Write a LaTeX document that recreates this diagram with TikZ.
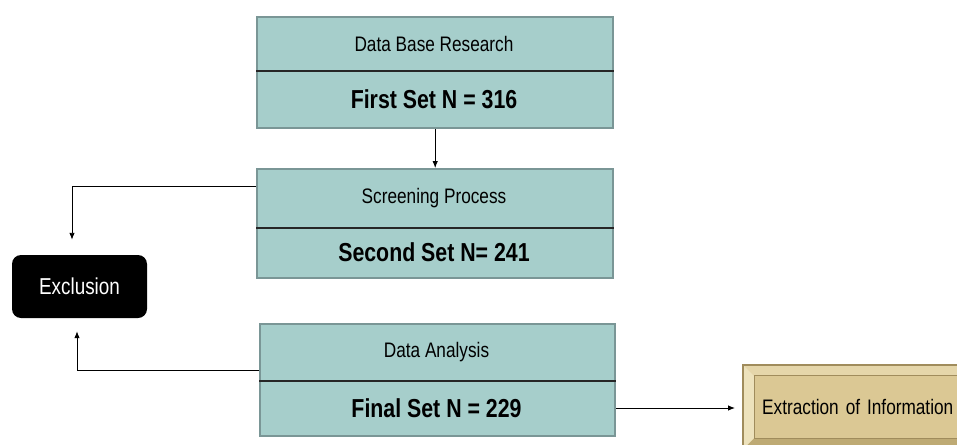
\documentclass[tikz,border=0pt]{standalone}
\usepackage{fontspec}
\setmainfont[FakeStretch=0.82]{Liberation Sans}
\usetikzlibrary{arrows.meta}

\definecolor{setfill}{RGB}{166,206,203}
\definecolor{setedge}{RGB}{122,150,150}
\definecolor{extface}{RGB}{219,200,148}
\definecolor{exttop}{RGB}{229,214,170}
\definecolor{extleft}{RGB}{237,226,188}
\definecolor{extbot}{RGB}{190,170,116}
\definecolor{extedge}{RGB}{160,140,92}

\begin{document}
\begin{tikzpicture}[x=1pt,y=1pt,
    setbox/.style={draw=setedge, line width=2.4pt, fill=setfill, inner sep=0pt},
    divider/.style={line width=1.1pt, black!85},
    small/.style={font=\fontsize{21}{24}\selectfont},
    big/.style={font=\fontsize{26}{30}\selectfont\bfseries},
    exclbox/.style={fill=black, text=white, rounded corners=9pt, minimum width=135pt,
        minimum height=63pt, font=\fontsize{23}{26}\selectfont},
    extbox/.style={fill=extface, anchor=west, text width=240pt, align=left, inner xsep=19pt,
        minimum height=84pt, font=\fontsize{21}{24}\selectfont},
    link/.style={-{Latex[length=7pt,width=5.5pt]}, line width=0.9pt},
]
\useasboundingbox (0,0) rectangle (957,-444);
\clip (0,0) rectangle (957,-444);

    % the three sets
    \foreach \nm/\xa/\xb/\ya/\ym/\yb/\ttl/\cnt in {
        first/256/612/16/71/127/Data Base Research/First Set N = 316,
        second/256/612/168/228/277/Screening Process/Second Set N= 241,
        final/259/614/323/381/435/Data Analysis/Final Set N = 229} {
        \node[setbox, anchor=north west, minimum width=\xb-\xa, minimum height=\yb-\ya] (\nm) at (\xa,-\ya) {};
        \coordinate (\nm-div) at (\xa,-\ym);
        \draw[divider] (\nm-div) -- (\nm-div -| \nm.east);
        \node[small] (\nm-t) at ({(\xa+\xb)/2},{-(\ya+\ym)/2}) {\ttl};
        \node[big] (\nm-n) at ({(\xa+\xb)/2},{-(\ym+\yb)/2}) {\cnt};
    }

    \node[exclbox] (excl) at (79.5,-286.5) {Exclusion};

    % bevelled box, runs off the page
    \node[extbox] (extract) at (743,-407) {Extraction of Information};
    \fill[exttop] (extract.north west) -- (extract.north east) -- ([shift={(-11,-11)}]extract.north east) -- ([shift={(11,-11)}]extract.north west) -- cycle;
    \fill[extbot] (extract.south west) -- (extract.south east) -- ([shift={(-11,11)}]extract.south east) -- ([shift={(11,11)}]extract.south west) -- cycle;
    \fill[extleft] (extract.north west) -- ([shift={(11,-11)}]extract.north west) -- ([shift={(11,11)}]extract.south west) -- (extract.south west) -- cycle;
    \draw[extedge, line width=0.8pt] ([shift={(11,-11)}]extract.north west) rectangle ([shift={(-11,11)}]extract.south east);
    \draw[extedge, line width=1.6pt] (extract.north west) rectangle (extract.south east);

    % connectors
    \draw[link] (first.south) -- (second.north);
    \draw[link, shorten >=15pt] ([yshift=-18pt]second.north west) -| ([xshift=-7.5pt]excl.north);
    \draw[link, shorten >=13pt] ([yshift=-47pt]final.north west) -| ([xshift=-2.5pt]excl.south);
    \draw[link, shorten >=8pt] (final.east |- final-n) -- (extract.west |- final-n);

\end{tikzpicture}
\end{document}
